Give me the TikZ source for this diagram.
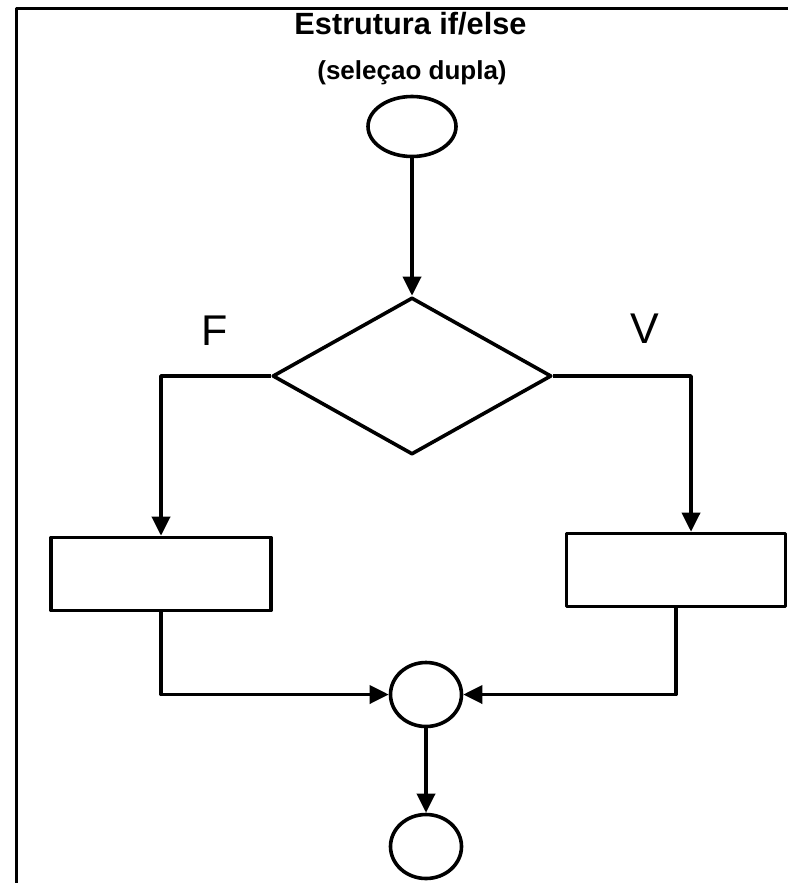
\documentclass[tikz,border=0pt]{standalone}
\usepackage{fontspec}
\setmainfont{Liberation Sans}
\usetikzlibrary{shapes.geometric,arrows.meta}

\begin{document}
\begin{tikzpicture}[x=1pt,y=-1pt,line width=3.6pt,line join=round,
  flow/.style={-{Triangle[length=19pt,width=18pt]}},
  terminal/.style={draw,ellipse,inner sep=0pt,minimum width=#1},
  caixa/.style={draw,rectangle,inner sep=0pt,minimum width=220pt,minimum height=73pt},
  rotulo/.style={font=\fontsize{43}{50}\selectfont}]
\useasboundingbox (0,0) rectangle (788,883);
\draw (16.5,883) -- (16.5,8.5) -- (788,8.5);
\node[anchor=base,font=\fontsize{30.7}{36}\selectfont\bfseries] (titulo) at (410.5,35) {Estrutura if/else};
\node[anchor=base,font=\fontsize{26}{30}\selectfont\bfseries] (subtitulo) at (412,80) {(seleçao dupla)};
\node[terminal=88pt,minimum height=60pt] (inicio) at (412,126.5) {};
\node[draw,diamond,inner sep=0pt,minimum width=279pt,minimum height=157pt] (teste) at (412,376) {};
\node[rotulo] (falso) at (215,331) {F};
\node[rotulo] (verdade) at (645,329) {V};
\node[caixa] (blocoF) at (161,574) {};
\node[caixa,minimum width=219pt] (blocoV) at (676,570) {};
\node[terminal=71pt,minimum height=64pt] (juncao) at (426,694.5) {};
\node[terminal=71pt,minimum height=64pt] (fim) at (426,846.5) {};
\coordinate (ladoV) at (691,376);
\draw[flow] (inicio) -- (teste);
\draw[flow] (teste.west) -| (blocoF.north);
\draw[flow] (teste.east) -- (ladoV) -- (ladoV |- blocoV.north);
\draw[flow] (blocoF.south) |- (juncao.west);
\draw[flow] (blocoV.south) |- (juncao.east);
\draw[flow] (juncao) -- (fim);
\end{tikzpicture}
\end{document}
